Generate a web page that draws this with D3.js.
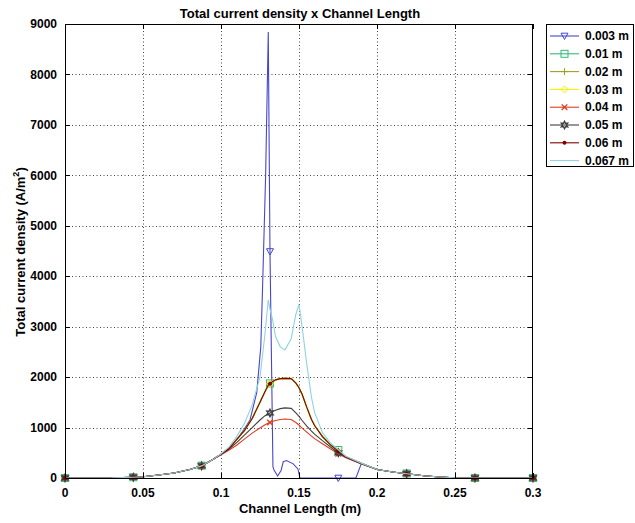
<!DOCTYPE html>
<html><head><meta charset="utf-8">
<script src="https://cdn.jsdelivr.net/npm/d3@7"></script>
<style>
body{margin:0;background:#fff;}
text{font-family:"Liberation Sans",Arial,sans-serif;font-weight:bold;fill:#000;}
</style></head>
<body><svg id="c" width="635" height="523"></svg>
<script>
// ---- data ----
const seriesNames = ["0.003 m","0.01 m","0.02 m","0.03 m","0.04 m","0.05 m","0.06 m","0.067 m"];
const xTicks = [0,0.05,0.1,0.15,0.2,0.25,0.3];
const xTickLabels = ["0","0.05","0.1","0.15","0.2","0.25","0.3"];
const yTicks = [0,1000,2000,3000,4000,5000,6000,7000,8000,9000];
const markerX = [0,0.0438,0.0876,0.1314,0.1752,0.219,0.2628,0.3];

const x003 = [0,0.01,0.02,0.03,0.0438,0.05,0.06,0.07,0.08,0.0876,0.095,0.1,0.105,0.11,0.1145,0.1186,0.1229,0.1255,0.1266,0.1286,0.1303,0.1314,0.1333,0.134,0.1363,0.1385,0.1399,0.142,0.1463,0.1493,0.1506,0.16,0.17,0.1752,0.18,0.1865,0.19,0.2,0.21,0.219,0.23,0.24,0.25,0.2628,0.28,0.3];
const y003 = [0,0,0,2,15,25,60,100,170,240,370,470,590,760,950,1150,1690,2600,3730,5980,8840,4490,225,160,40,150,325,345,280,180,0,0,0,0,0,0,290,170,120,85,45,20,5,0,0,0];

const xCommon = [0,0.01,0.02,0.03,0.0438,0.05,0.06,0.07,0.08,0.0876,0.095,0.1,0.105,0.11,0.115,0.12,0.125,0.128,0.1303,0.1314,0.133,0.135,0.138,0.141,0.145,0.148,0.15,0.152,0.155,0.158,0.16,0.165,0.17,0.1752,0.18,0.19,0.2,0.21,0.219,0.23,0.24,0.25,0.2628,0.28,0.3];
const y010 = [0,0,0,2,15,25,60,100,170,245,370,470,580,760,940,1180,1500,1700,1840,1875,1910,1945,1970,1975,1970,1880,1790,1660,1400,1160,1040,830,670,555,425,290,170,120,90,45,20,5,0,0,0];
const y020 = [0,0,0,2,15,25,60,100,170,240,370,470,580,760,940,1180,1500,1700,1840,1870,1910,1945,1970,1975,1970,1880,1790,1660,1400,1160,1040,820,660,530,420,290,170,120,85,45,20,5,0,0,0];
const y030 = [0,0,0,2,15,25,60,100,170,240,370,470,580,760,940,1180,1500,1700,1840,1870,1910,1945,1970,1975,1970,1880,1790,1660,1400,1160,1040,820,660,530,420,290,170,120,85,45,20,5,0,0,0];
const y040 = [0,0,0,2,15,25,60,100,170,240,370,460,550,650,770,890,990,1050,1090,1100,1120,1140,1160,1170,1160,1100,1050,990,910,830,780,680,580,480,400,280,170,120,85,45,20,5,0,0,0];
const y050 = [0,0,0,2,15,25,60,100,170,240,370,470,570,700,850,1000,1150,1230,1270,1290,1320,1345,1375,1390,1380,1290,1220,1140,1030,930,870,740,620,500,410,285,170,120,85,45,20,5,0,0,0];
const y060 = [0,0,0,2,15,25,60,100,170,240,370,470,580,760,940,1180,1500,1700,1840,1870,1910,1945,1970,1975,1970,1880,1790,1660,1400,1160,1040,820,660,530,420,290,170,120,85,45,20,5,0,0,0];
const y067 = [0,0,0,2,15,25,60,100,170,240,370,480,610,820,1080,1450,2000,2800,3530,3350,3150,2800,2600,2540,2760,3250,3440,3000,2250,1600,1300,900,700,560,430,295,170,120,85,45,20,5,0,0,0];

const colors = ["#4646cc","#33bb77","#a0a020","#f2f200","#e03c1e","#404040","#800000","#8fd3e0"];
const markers = ["tri","square","plus","diamond","x","hex","dot","none"];

// ---- chart ----
const svg = d3.select("#c");
const L=65,R=533,T=24,B=478;
const x = d3.scaleLinear().domain([0,0.3]).range([L,R]);
const y = d3.scaleLinear().domain([0,9000]).range([B,T]);

svg.append("rect").attr("x",0).attr("y",0).attr("width",635).attr("height",523).attr("fill","#fff");
svg.append("rect").attr("x",L).attr("y",T).attr("width",R-L).attr("height",B-T).attr("fill","#fff");

// grid
const grid = svg.append("g").attr("stroke","#444").attr("stroke-width",1).attr("stroke-dasharray","1,2.5");
xTicks.slice(1,-1).forEach(v=>grid.append("line").attr("x1",Math.round(x(v))+0.5).attr("x2",Math.round(x(v))+0.5).attr("y1",T).attr("y2",B));
yTicks.slice(1,-1).forEach(v=>grid.append("line").attr("y1",Math.round(y(v))+0.5).attr("y2",Math.round(y(v))+0.5).attr("x1",L).attr("x2",R));

// series
const seriesData = [
  {xs:x003,ys:y003},{xs:xCommon,ys:y010},{xs:xCommon,ys:y020},{xs:xCommon,ys:y030},
  {xs:xCommon,ys:y040},{xs:xCommon,ys:y050},{xs:xCommon,ys:y060},{xs:xCommon,ys:y067}];

function drawMarker(g,type,cx,cy,col){
  const s=3.5;
  if(type==="tri") g.append("path").attr("d",`M${cx-s},${cy-s*0.8}L${cx+s},${cy-s*0.8}L${cx},${cy+s}Z`).attr("fill","none").attr("stroke",col);
  else if(type==="square") g.append("rect").attr("x",cx-s).attr("y",cy-s).attr("width",2*s).attr("height",2*s).attr("fill","none").attr("stroke",col);
  else if(type==="plus") g.append("path").attr("d",`M${cx-s},${cy}L${cx+s},${cy}M${cx},${cy-s}L${cx},${cy+s}`).attr("stroke",col);
  else if(type==="diamond") g.append("path").attr("d",`M${cx-s},${cy}L${cx},${cy-s}L${cx+s},${cy}L${cx},${cy+s}Z`).attr("fill","none").attr("stroke",col);
  else if(type==="x") g.append("path").attr("d",`M${cx-s*0.8},${cy-s*0.8}L${cx+s*0.8},${cy+s*0.8}M${cx-s*0.8},${cy+s*0.8}L${cx+s*0.8},${cy-s*0.8}`).attr("stroke",col).attr("stroke-width",1.3);
  else if(type==="hex"){
    const pts=[];
    for(let k=0;k<12;k++){const r=k%2?s*0.55:s*1.05;const a=-Math.PI/2+k*Math.PI/6;pts.push([cx+r*Math.cos(a),cy+r*Math.sin(a)]);}
    g.append("path").attr("d","M"+pts.join("L")+"Z").attr("fill","none").attr("stroke",col).attr("stroke-width",1.4);
  }
  else if(type==="dot") g.append("circle").attr("cx",cx).attr("cy",cy).attr("r",2).attr("fill",col);
}

const line = d3.line().x(d=>x(d[0])).y(d=>y(d[1]));
const plot = svg.append("g");
seriesData.forEach((s,i)=>{
  const pts = s.xs.map((v,k)=>[v,s.ys[k]]);
  const g = plot.append("g");
  g.append("path").attr("d",line(pts)).attr("fill","none").attr("stroke",colors[i]).attr("stroke-width",1.1);
  if(markers[i]!=="none"){
    pts.filter(p=>markerX.some(m=>Math.abs(m-p[0])<1e-6)).forEach(p=>drawMarker(g,markers[i],x(p[0]),y(p[1]),colors[i]));
  }
});

// axes box
svg.append("rect").attr("x",L+0.5).attr("y",T+0.5).attr("width",R-L-1).attr("height",B-T).attr("fill","none").attr("stroke","#000");
const tk = svg.append("g").attr("stroke","#000");
xTicks.forEach(v=>{const px=Math.round(x(v))+0.5;
  tk.append("line").attr("x1",px).attr("x2",px).attr("y1",B).attr("y2",B-5);
  tk.append("line").attr("x1",px).attr("x2",px).attr("y1",T).attr("y2",T+5);});
yTicks.forEach(v=>{const py=Math.round(y(v))+0.5;
  tk.append("line").attr("x1",L).attr("x2",L+5).attr("y1",py).attr("y2",py);
  tk.append("line").attr("x1",R-5).attr("x2",R).attr("y1",py).attr("y2",py);});

// tick labels
xTicks.forEach((v,i)=>svg.append("text").attr("x",x(v)).attr("y",497).attr("text-anchor","middle").attr("font-size",12).text(xTickLabels[i]));
yTicks.forEach(v=>svg.append("text").attr("x",57).attr("y",y(v)).attr("dy","0.35em").attr("text-anchor","end").attr("font-size",12).text(d3.format("d")(v)));

// titles
svg.append("text").attr("x",300).attr("y",18).attr("text-anchor","middle").attr("font-size",13).text("Total current density x Channel Length");
svg.append("text").attr("x",300).attr("y",513).attr("text-anchor","middle").attr("font-size",13).text("Channel Length (m)");
const yl = svg.append("text").attr("transform","translate(25,252) rotate(-90)").attr("text-anchor","middle").attr("font-size",13);
yl.append("tspan").text("Total current density (A/m");
yl.append("tspan").attr("font-size",9).attr("dy",-6).text("2");
yl.append("tspan").attr("dy",6).text(")");

// legend
const lg = svg.append("g");
lg.append("rect").attr("x",546.5).attr("y",24.5).attr("width",87).attr("height",142).attr("fill","#fff").attr("stroke","#000");
seriesNames.forEach((n,i)=>{
  const ly = 36 + i*17.8;
  lg.append("line").attr("x1",550).attr("x2",579).attr("y1",ly).attr("y2",ly).attr("stroke",colors[i]).attr("stroke-width",1.1);
  if(markers[i]!=="none") drawMarker(lg,markers[i],564.5,ly,colors[i]);
  lg.append("text").attr("x",585).attr("y",ly).attr("dy","0.35em").attr("font-size",12).text(n);
});
</script></body></html>
